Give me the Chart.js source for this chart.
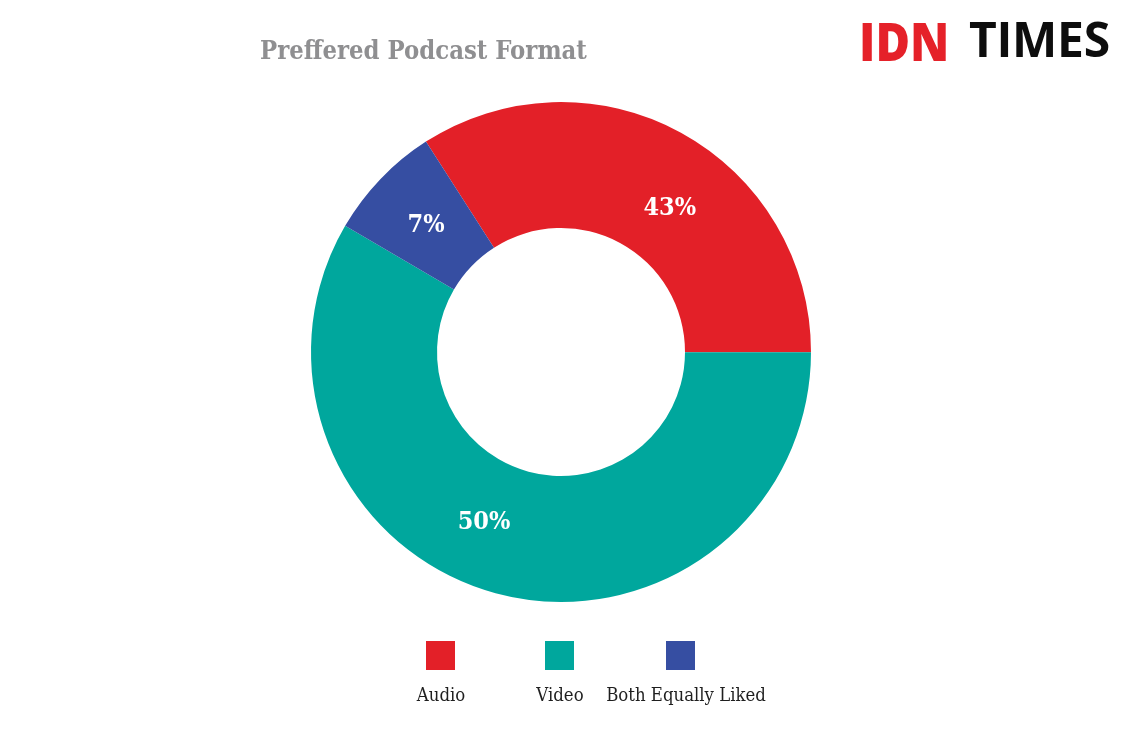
<!DOCTYPE html>
<html>
<head>
<meta charset="utf-8">
<title>Preffered Podcast Format</title>
<script src="https://cdn.jsdelivr.net/npm/chart.js@4"></script>
<style>
    html, body { margin: 0; padding: 0; background: #fff; }
    #wrap { position: relative; width: 1131px; height: 754px; overflow: hidden; }
    #chart { position: absolute; left: 0; top: 0; }
    .abs { position: absolute; white-space: nowrap; line-height: 1; }
    #title { left: 260px; top: 35px; font: bold 25.4px "DejaVu Serif Condensed", "DejaVu Serif", serif; color: #8f8f91; }
    #logo-idn { left: 859px; top: 4px; font: 800 53px "Open Sans", sans-serif; color: #e52129; transform: scaleX(0.89); transform-origin: left top; }
    #logo-times { left: 969px; top: 6px; font: 700 48px "Open Sans", sans-serif; color: #0d0d0d; letter-spacing: -0.3px; }
    .swatch { position: absolute; top: 641px; width: 29px; height: 29px; }
    .legend-label { position: absolute; top: 684px; transform: translateX(-50%); font: 18.4px "DejaVu Serif Condensed", "DejaVu Serif", serif; color: #1f1f1f; white-space: nowrap; }
</style>
</head>
<body>
<div id="wrap">
    <canvas id="chart" width="1131" height="754"></canvas>
    <div class="abs" id="title">Preffered Podcast Format</div>
    <div class="abs" id="logo-idn">IDN</div>
    <div class="abs" id="logo-times">TIMES</div>
</div>
<script>
// Данные
const categories = ['Audio', 'Video', 'Both Equally Liked'];
// доли как они нарисованы на картинке (не совпадают с подписями)
const sliceValues = [34.1, 58.4, 7.5];
const sliceLabels = ['43%', '50%', '7%'];
const colors = ['#e32028', '#00a79d', '#364ea2'];

// Смещения подписей и легенды
const labelOffsets = [[19, 21], [-28, -10], [0, 3]];
const swatchLeft = [426, 545, 666];
const legendCenter = [441, 560, 686];

// Подписи процентов внутри сегментов
const sliceLabelPlugin = {
    id: 'sliceLabels',
    afterDatasetsDraw(chart) {
        const ctx = chart.ctx;
        ctx.save();
        ctx.fillStyle = '#fff';
        ctx.font = 'bold 25px "DejaVu Serif Condensed", "DejaVu Serif", serif';
        ctx.textAlign = 'center';
        ctx.textBaseline = 'middle';
        chart.getDatasetMeta(0).data.forEach((arc, i) => {
            const p = arc.getCenterPoint();
            ctx.fillText(sliceLabels[i], p.x + labelOffsets[i][0], p.y + labelOffsets[i][1]);
        });
        ctx.restore();
    }
};

new Chart(document.getElementById('chart'), {
    type: 'doughnut',
    data: {
        labels: categories,
        datasets: [{
            data: sliceValues,
            backgroundColor: colors,
            borderWidth: 0
        }]
    },
    options: {
        responsive: false,
        animation: false,
        rotation: -32.7,
        cutout: '49.6%',
        layout: { padding: { left: 311, right: 320, top: 102, bottom: 152 } },
        plugins: {
            legend: { display: false },
            tooltip: { enabled: false }
        }
    },
    plugins: [sliceLabelPlugin]
});

// Легенда: квадрат сверху, подпись снизу
const wrap = document.getElementById('wrap');
categories.forEach((name, i) => {
    const swatch = document.createElement('div');
    swatch.className = 'swatch';
    swatch.style.left = swatchLeft[i] + 'px';
    swatch.style.background = colors[i];
    wrap.appendChild(swatch);

    const label = document.createElement('div');
    label.className = 'legend-label';
    label.style.left = legendCenter[i] + 'px';
    label.textContent = name;
    wrap.appendChild(label);
});
</script>
</body>
</html>
